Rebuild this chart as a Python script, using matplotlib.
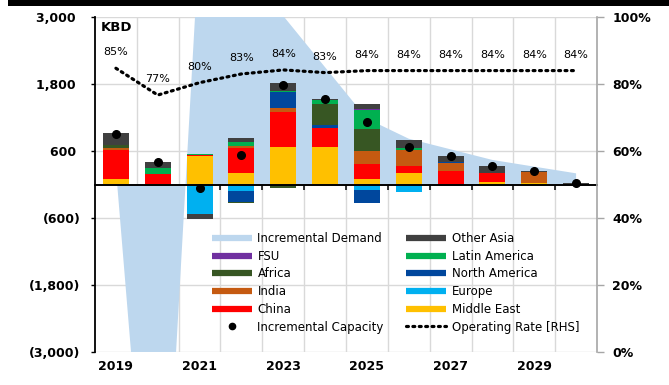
import numpy as np
import matplotlib
matplotlib.use("Agg")
import matplotlib.pyplot as plt
from matplotlib.lines import Line2D
from matplotlib.patches import Rectangle
from matplotlib.ticker import FuncFormatter

# --- DATA (KBD) ---
years = list(range(2019, 2031))
demand = [280, -8800, 4450, 5200, 3020, 2100, 1180, 820, 630, 440, 320, 200]
capacity = [900, 410, -55, 520, 1785, 1530, 1125, 665, 515, 330, 245, 20]
op_rate = [0.847, 0.767, 0.804, 0.830, 0.842, 0.834, 0.840, 0.840, 0.840, 0.840, 0.840, 0.840]

middle_east = [100, 10, 510, 210, 680, 680, 95, 205, 0, 50, 25, 0]
china = [520, 170, 15, 440, 625, 340, 280, 130, 240, 150, 0, 0]
europe = [0, 0, -520, -110, 0, 0, -90, -140, 0, 0, 0, 0]
india = [25, 0, 0, 35, 70, 0, 220, 275, 140, 0, 200, 0]
north_america = [0, 0, 0, -200, 275, 50, -250, 0, 25, 0, 0, 0]
africa = [65, 0, 0, -15, -55, 365, 395, 0, 0, 0, 0, 0]
latin_america = [0, 120, 30, 75, 30, 85, 340, 35, 0, 0, 0, 0]
fsu = [0, 0, 0, 0, 0, 0, 15, 0, 0, 0, 0, 0]
other_asia = [210, 110, -95, 80, 140, 10, 100, 150, 110, 130, 20, 20]

# stacking order, bottom to top
stack = [
    ("Middle East", middle_east, "#FFC000"),
    ("China", china, "#FF0000"),
    ("Europe", europe, "#00B0F0"),
    ("India", india, "#C55A11"),
    ("North America", north_america, "#00479D"),
    ("Africa", africa, "#375623"),
    ("Latin America", latin_america, "#00B050"),
    ("FSU", fsu, "#7030A0"),
    ("Other Asia", other_asia, "#404040"),
]
colors = {name: c for name, _, c in stack}
DEMAND_COLOR = "#BDD7EE"
GRID = "#D9D9D9"

plt.rcParams["font.family"] = "DejaVu Sans"

fig = plt.figure(figsize=(6.69, 3.85), dpi=100)
ax = fig.add_axes([95 / 669, 1 - 352 / 385, 502 / 669, 335 / 385])
x = np.arange(len(years))

# demand as a filled area behind the bars
ax.fill_between(x, 0, demand, color=DEMAND_COLOR, lw=0, zorder=1)

pos_base = np.zeros(len(years))
neg_base = np.zeros(len(years))
for name, vals, color in stack:
    v = np.array(vals, dtype=float)
    base = np.where(v >= 0, pos_base, neg_base)
    ax.bar(x, v, width=0.62, bottom=base, color=color, lw=0, zorder=2)
    pos_base += np.clip(v, 0, None)
    neg_base += np.clip(v, None, 0)

ax.plot(x, capacity, "o", color="black", ms=5.5, zorder=4)

ax.set_xlim(-0.5, len(years) - 0.5)
ax.set_ylim(-3000, 3000)
ax.set_yticks([-3000, -1800, -600, 600, 1800, 3000])
ax.yaxis.set_major_formatter(FuncFormatter(
    lambda v, _: f"({abs(v):,.0f})" if v < 0 else f"{v:,.0f} "))
ax.set_xticks(np.arange(0.5, len(years) - 1, 1))
ax.set_xticklabels([])
ax.set_axisbelow(True)
ax.grid(True, color=GRID, lw=1)

ax.spines["bottom"].set_position(("data", 0))
ax.spines["bottom"].set_linewidth(1.4)
ax.spines["left"].set_linewidth(1.3)
ax.spines["top"].set_visible(False)
ax.spines["right"].set_visible(False)
ax.tick_params(axis="x", direction="out", length=3.5, width=1.1, color="black")
ax.tick_params(axis="y", direction="out", length=3, width=1, pad=7.5,
               labelsize=9)
for lbl in ax.get_yticklabels():
    lbl.set_fontweight("bold")

# year labels along the bottom of the plot area
secax = ax.secondary_xaxis(0.0)
secax.set_xticks(x[::2])
secax.set_xticklabels([str(y) for y in years[::2]], fontweight="bold", fontsize=9)
secax.tick_params(length=0, pad=6)
secax.spines["bottom"].set_visible(False)

ax.text(0.012, 0.988, "KBD", transform=ax.transAxes, ha="left", va="top",
        fontsize=9.5, fontweight="bold")

# operating rate on the right axis
ax2 = ax.twinx()
ax2.set_ylim(0, 1)
ax2.set_yticks(np.linspace(0, 1, 6))
ax2.yaxis.set_major_formatter(FuncFormatter(lambda v, _: f"{v:.0%}"))
ax2.plot(x, op_rate, color="black", lw=2.3, ls=(0, (0.6, 1.4)),
         dash_capstyle="round", zorder=5)
for xi, r in zip(x, op_rate):
    ax2.annotate(f"{r:.0%}", (xi, r), xytext=(0, 11.5), textcoords="offset points",
                 ha="center", va="center", fontsize=8)
for side in ["left", "top", "bottom"]:
    ax2.spines[side].set_visible(False)
ax2.spines["right"].set_color("#A6A6A6")
ax2.spines["right"].set_linewidth(1.2)
ax2.tick_params(axis="y", direction="out", length=5, width=1, color="#A6A6A6",
                pad=6, labelsize=9)
for lbl in ax2.get_yticklabels():
    lbl.set_fontweight("bold")


def swatch(c):
    return Line2D([], [], color=c, lw=4.5, solid_capstyle="butt")


col1 = [
    (swatch(DEMAND_COLOR), "Incremental Demand"),
    (swatch(colors["FSU"]), "FSU"),
    (swatch(colors["Africa"]), "Africa"),
    (swatch(colors["India"]), "India"),
    (swatch(colors["China"]), "China"),
    (Line2D([], [], ls="none", marker="o", color="black", ms=4.5), "Incremental Capacity"),
]
col2 = [
    (swatch(colors["Other Asia"]), "Other Asia"),
    (swatch(colors["Latin America"]), "Latin America"),
    (swatch(colors["North America"]), "North America"),
    (swatch(colors["Europe"]), "Europe"),
    (swatch(colors["Middle East"]), "Middle East"),
    (Line2D([], [], color="black", lw=2.3, ls=(0, (0.6, 1.4)), dash_capstyle="round"),
     "Operating Rate [RHS]"),
]
handles, labels = zip(*(col1 + col2))
fig.legend(handles, labels, ncol=2, loc="upper left",
           bbox_to_anchor=(212 / 669, 1 - 232 / 385), frameon=False,
           fontsize=8.5, borderpad=0, borderaxespad=0, handlelength=3.4,
           handletextpad=0.45, columnspacing=1.9, labelspacing=0.4)

# black strip across the top edge
fig.add_artist(Rectangle((8 / 669, 1 - 5.5 / 385), 1, 5.5 / 385,
                         transform=fig.transFigure, color="black", lw=0))

fig.savefig("out.png", dpi=100)
